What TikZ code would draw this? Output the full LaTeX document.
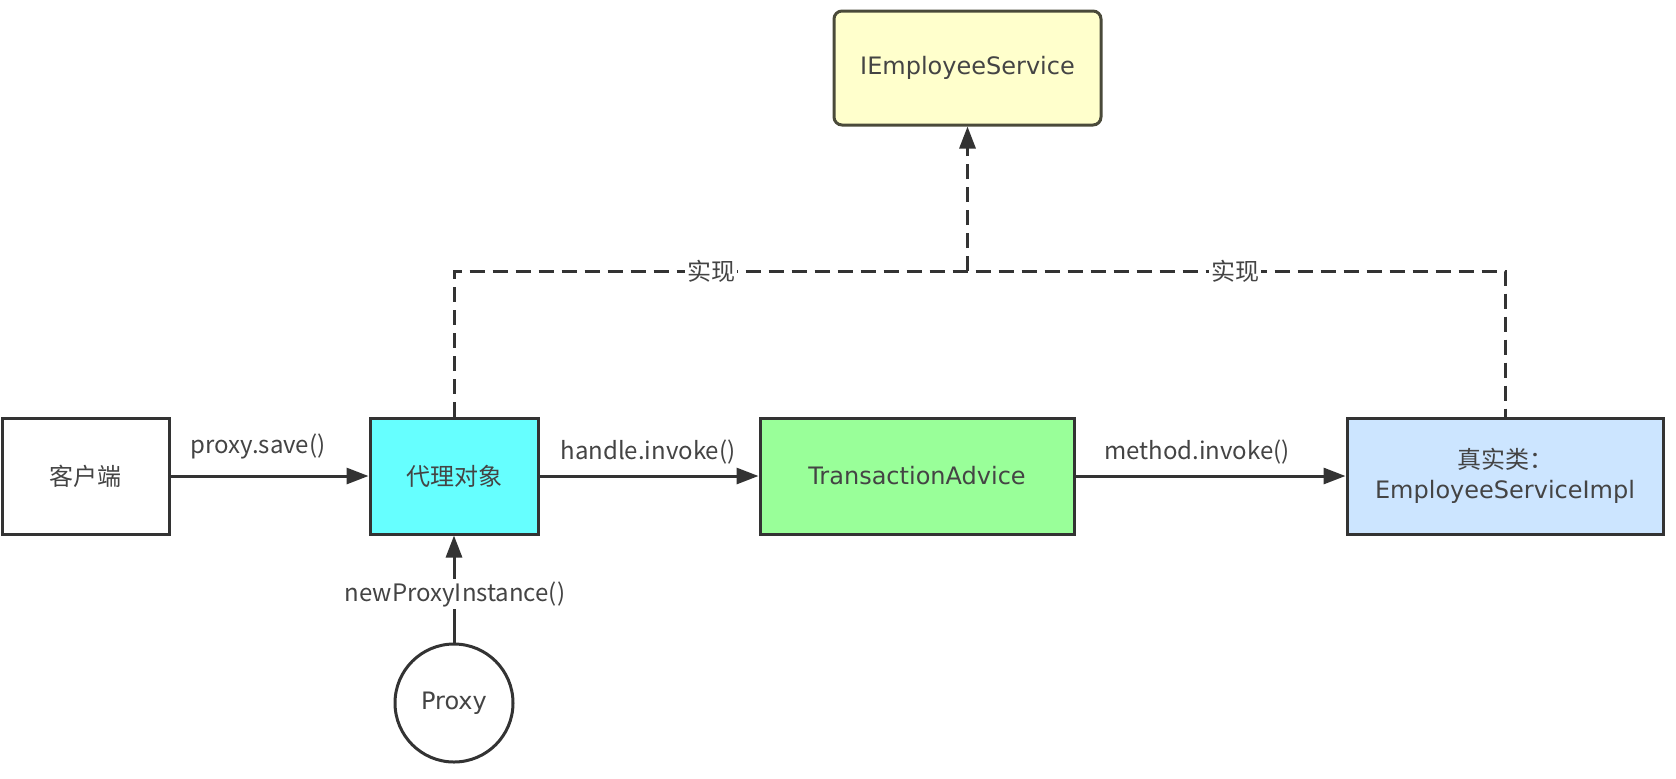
\documentclass[tikz,border=0pt]{standalone}
\usepackage{fontspec}
\setmainfont{DejaVu Sans}
\newfontfamily\cjk{Noto Sans CJK SC}
\usetikzlibrary{arrows.meta}
\definecolor{edge}{HTML}{333333}
\definecolor{txt}{HTML}{444444}
\definecolor{cyanfill}{HTML}{66FFFF}
\definecolor{greenfill}{HTML}{99FF99}
\definecolor{bluefill}{HTML}{CCE5FF}
\definecolor{yellowfill}{HTML}{FFFFCC}
\definecolor{yellowline}{HTML}{4A4A3A}
\begin{document}
\begin{tikzpicture}[x=0.5pt,y=-0.5pt,
  box/.style={draw=edge, line width=1.5pt, minimum height=58pt, inner sep=0pt,
    text=txt, font=\fontsize{12}{15}\selectfont, align=center},
  conn/.style={draw=edge, line width=1.5pt, -{Triangle[length=11pt,width=8pt]}},
  dashline/.style={draw=edge, line width=1.5pt, dash pattern=on 7.5pt off 4pt},
  lab/.style={text=txt, font=\cjk\fontsize{12}{15}\selectfont, inner sep=1pt},
]
\useasboundingbox (0,0) rectangle (1676,778);
\fill[white] (0,0) rectangle (1676,778);

\node[box, fill=white, minimum width=83.5pt] (kh) at (85.5,476) {\cjk 客户端};
\node[box, fill=cyanfill, minimum width=84pt] (dl) at (454,476) {\cjk 代理对象};
\node[box, fill=greenfill, minimum width=157pt] (ta) at (917,476) {TransactionAdvice};
\node[box, fill=bluefill, minimum width=158pt] (zs) at (1505,476) {{\cjk 真实类：}\\EmployeeServiceImpl};
\node[box, fill=yellowfill, draw=yellowline, rounded corners=4pt, minimum width=133.5pt, minimum height=57pt] (ie) at (967.5,68) {IEmployeeService};
\node[circle, draw=edge, line width=1.5pt, minimum size=59pt, inner sep=0pt, text=txt,
  font=\fontsize{12}{15}\selectfont] (px) at (454,703) {Proxy};

\coordinate (jl) at (454,271);
\coordinate (jm) at (967.5,271);
\coordinate (jr) at (1505,271);

\draw[conn] (kh) -- (dl);
\draw[conn] (dl) -- (ta);
\draw[conn] (ta) -- (zs);
\draw[conn] (px) -- (dl);
\draw[dashline] (dl.north) -- (jl) -- (jr) -- (zs.north);
\draw[dashline, -{Triangle[length=11pt,width=8pt]}] (jm) -- (ie.south);

\node[lab] at (258,446) {proxy.save()};
\node[lab] at (648,452) {handle.invoke()};
\node[lab] at (1197,452) {method.invoke()};
\node[lab, fill=white] at (455,594) {newProxyInstance()};
\node[lab, fill=white] at (711,271) {实现};
\node[lab, fill=white] at (1235,271) {实现};
\end{tikzpicture}
\end{document}
